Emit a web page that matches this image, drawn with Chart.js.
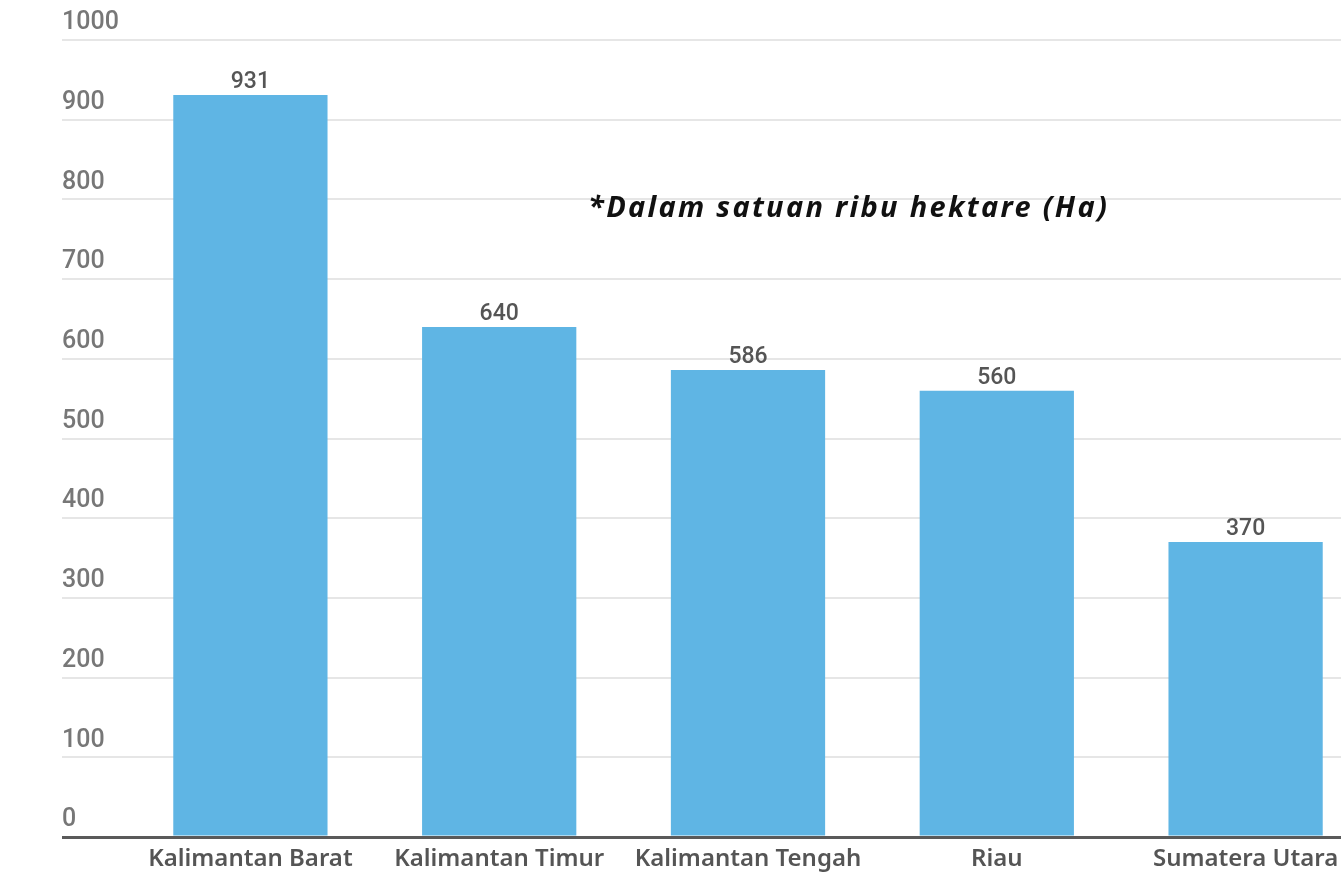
<!DOCTYPE html>
<html>
<head>
<meta charset="utf-8">
<title>Luas lahan per provinsi</title>
<script src="https://cdn.jsdelivr.net/npm/chart.js@4.4.0/dist/chart.umd.min.js"></script>
<style>
  html, body { margin: 0; padding: 0; background: #fff; overflow: hidden; }
  #wrap { position: relative; width: 1370px; height: 872px; }
</style>
</head>
<body>
<div id="wrap"><canvas id="chart"></canvas></div>
<script>
'use strict';

// data (ribu hektare)
const provinces = ['Kalimantan Barat', 'Kalimantan Timur', 'Kalimantan Tengah', 'Riau', 'Sumatera Utara'];
const areaThousandHa = [931, 640, 586, 560, 370];
const yMin = 0;
const yMax = 1000;
const yStep = 100;
const note = '*Dalam satuan ribu hektare (Ha)';

const barColor = '#5fb5e4';
const gridColor = '#e6e6e6';
const axisColor = '#5a5a5a';

let canvasElem = document.getElementById('chart');

// value printed above each bar
const valueLabels = {
  id: 'valueLabels',
  afterDatasetsDraw(chart) {
    const ctx = chart.ctx;
    const meta = chart.getDatasetMeta(0);
    ctx.save();
    ctx.font = '500 23px Roboto';
    ctx.fillStyle = '#555555';
    ctx.textAlign = 'center';
    ctx.textBaseline = 'alphabetic';
    meta.data.forEach((bar, i) => {
      ctx.fillText(String(chart.data.datasets[0].data[i]), bar.x, bar.y - 7);
    });
    ctx.restore();
  }
};

// unit note in the middle of the plot
const unitNote = {
  id: 'unitNote',
  afterDraw(chart) {
    const ctx = chart.ctx;
    ctx.save();
    ctx.font = 'italic 700 29px "Noto Sans"';
    ctx.letterSpacing = '2.3px';
    ctx.fillStyle = '#111111';
    ctx.textAlign = 'left';
    ctx.textBaseline = 'alphabetic';
    ctx.fillText(note, 588, 217);
    ctx.restore();
  }
};

const data = {
  labels: provinces,
  datasets: [{
    label: 'Luas',
    data: areaThousandHa,
    backgroundColor: barColor,
    borderWidth: 0,
    categoryPercentage: 1,
    barPercentage: 0.62,
  }]
};

const config = {
  type: 'bar',
  data: data,
  options: {
    responsive: true,
    maintainAspectRatio: false,
    animation: false,
    layout: {
      padding: { top: 40, left: 62, right: 0, bottom: 0 }
    },
    plugins: {
      legend: { display: false },
      tooltip: { enabled: false },
    },
    scales: {
      x: {
        grid: { display: false, drawTicks: false },
        border: { display: false },
        ticks: {
          font: { family: 'Noto Sans', size: 24, weight: '600' },
          color: '#555555',
          padding: 8,
          maxRotation: 0,
          autoSkip: false,
        },
        afterFit(scale) { scale.height = 35; },
      },
      y: {
        min: yMin,
        max: yMax,
        border: { display: false },
        grid: {
          color: (c) => (c.tick && c.tick.value === 0 ? axisColor : gridColor),
          lineWidth: (c) => (c.tick && c.tick.value === 0 ? 3 : 2),
          drawTicks: true,
          tickLength: 64,
        },
        ticks: {
          stepSize: yStep,
          crossAlign: 'far',
          labelOffset: -17,
          padding: 0,
          font: { family: 'Roboto', size: 25, weight: '500' },
          color: '#777777',
          callback: (value) => String(value),
        },
        afterFit(scale) { scale.width = 64; },
      },
    },
  },
  plugins: [valueLabels, unitNote],
};

function renderChart() {
  new Chart(canvasElem, config);
}

renderChart();
</script>
</body>
</html>
